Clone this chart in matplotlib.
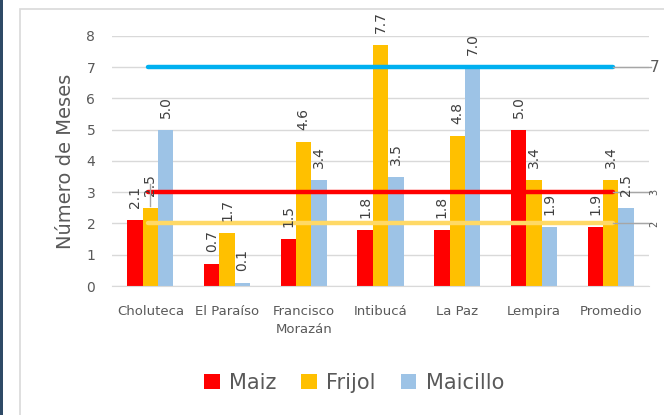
import matplotlib
matplotlib.use("Agg")
import matplotlib.pyplot as plt
from matplotlib.patches import Rectangle
import numpy as np

categories = ["Choluteca", "El Paraíso", "Francisco\nMorazán", "Intibucá",
              "La Paz", "Lempira", "Promedio"]
maiz = [2.1, 0.7, 1.5, 1.8, 1.8, 5.0, 1.9]
frijol = [2.5, 1.7, 4.6, 7.7, 4.8, 3.4, 3.4]
maicillo = [5.0, 0.1, 3.4, 3.5, 7.0, 1.9, 2.5]
series_names = ["Maiz", "Frijol", "Maicillo"]
ref_values = [7, 3, 2]   # Maicillo, Maiz, Frijol promedio lines
yticks = [0, 1, 2, 3, 4, 5, 6, 7, 8]

RED = "#FF0000"
GOLD = "#FFC000"
LBLUE = "#9DC3E6"
TXT = "#595959"

plt.rcParams['font.family'] = ['DejaVu Sans']

fig = plt.figure(figsize=(6.64, 4.15), dpi=100)
# outer frame
fig.patches.append(Rectangle((0, 0), 3/664, 1, transform=fig.transFigure,
                             facecolor="#2E4A66", edgecolor="none", zorder=-2))
fig.patches.append(Rectangle((20/664, -0.1), 1.2, 1 - 9/415 + 0.1,
                             transform=fig.transFigure, facecolor="white",
                             edgecolor="#D9D9D9", lw=1.2, zorder=-2))

ax = fig.add_axes([112/664, 1 - 286/415, 537/664, 250/415])
ax.set_facecolor("none")
x = np.arange(len(categories))
w = 0.2
for vals, col, off, name in [(maiz, RED, -w, "Maiz"), (frijol, GOLD, 0, "Frijol"),
                             (maicillo, LBLUE, w, "Maicillo")]:
    ax.bar(x + off, vals, w, color=col, label=name, zorder=2)
    for xi, v in zip(x + off, vals):
        ax.text(xi, v + 0.38, "%.1f" % v, rotation=90, ha="center", va="bottom",
                fontsize=10, color="#404040", zorder=4)

# average lines
line_cols = ["#00B0F0", RED, "#FFD966"]
for val, col in zip(ref_values, line_cols):
    ax.plot([x[0] - 0.03, x[-1] + 0.03], [val, val], color=col, lw=3.2,
            solid_capstyle="round", zorder=3)
    ax.plot([x[-1] + 0.03, x[-1] + 0.53], [val, val], color="#A6A6A6", lw=1,
            zorder=3, clip_on=False)
ax.text(6.63, 7, "7", fontsize=11, color=TXT, va="center", ha="right", clip_on=False)
ax.text(6.64, 3, "3", fontsize=7, color=TXT, va="center", ha="right",
        rotation=90, clip_on=False)
ax.text(6.64, 2, "2", fontsize=7, color=TXT, va="center", ha="right",
        rotation=90, clip_on=False)
# leader line at Choluteca
ax.plot([0.0, 0.0], [2.55, 3.25], color="#A6A6A6", lw=1, zorder=4)

ax.set_xlim(-0.5, 6.5)
ax.set_ylim(0, 8)
ax.set_yticks(yticks)
ax.yaxis.grid(True, color="#D9D9D9", lw=1)
ax.set_axisbelow(True)
for s in ["top", "right", "left"]:
    ax.spines[s].set_visible(False)
ax.spines["bottom"].set_color("#D9D9D9")
ax.tick_params(axis="both", length=0, colors=TXT)
ax.tick_params(axis="y", labelsize=10, pad=12)
ax.set_xticks(x)
ax.set_xticklabels(categories, fontsize=9.5, color=TXT, linespacing=1.5)
ax.tick_params(axis="x", pad=14)
ax.set_ylabel("Número de Meses", fontsize=14, color=TXT, labelpad=8)

fig.legend(*ax.get_legend_handles_labels(), loc="center",
           bbox_to_anchor=(354/664, 1 - 383/415), ncol=3, frameon=False,
           fontsize=15, labelcolor=TXT, handlelength=0.75, handleheight=0.75,
           handletextpad=0.45, columnspacing=1.2)

fig.savefig("out.png", dpi=100)
